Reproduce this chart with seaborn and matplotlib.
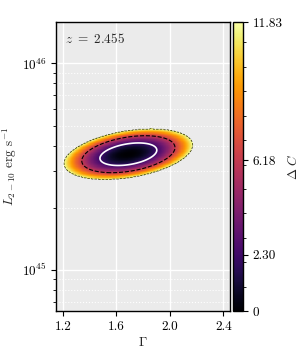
import numpy as np
import matplotlib
matplotlib.use("Agg")
import matplotlib.pyplot as plt
import seaborn as sns

# best fit and 1-sigma widths (Gamma, log10 L)
gamma_best = 1.69
logl_best = 45.560
sigma_gamma = 0.140
sigma_logl = 0.036
rho = 0.36

# delta C levels (2 parameters: 68%, 95.4%, 99.73%)
levels = [2.30, 6.18, 11.83]
cbar_ticks = [0, 2.30, 6.18, 11.83]
cbar_labels = ["0", "2.30", "6.18", "11.83"]
x_ticks = [1.2, 1.6, 2.0, 2.4]
redshift = "2.455"

sns.set_style("darkgrid", {"axes.facecolor": "#EBEBEB", "grid.color": "white"})
plt.rcParams.update({
    "font.family": "serif",
    "font.serif": ["cmr10", "DejaVu Serif"],
    "mathtext.fontset": "cm",
    "axes.formatter.use_mathtext": True,
    "font.size": 9.5,
    "axes.edgecolor": "black",
    "axes.linewidth": 1.0,
    "xtick.bottom": True,
    "ytick.left": True,
    "xtick.direction": "out",
    "ytick.direction": "out",
    "xtick.major.size": 3.5,
    "ytick.major.size": 3.5,
    "ytick.minor.size": 2.5,
    "xtick.color": "black",
    "ytick.color": "black",
})

g = np.linspace(1.15, 2.45, 500)
ll = np.linspace(44.8, 46.2, 500)
G, LL = np.meshgrid(g, ll)
u = (G - gamma_best) / sigma_gamma
v = (LL - logl_best) / sigma_logl
dc = (u**2 - 2 * rho * u * v + v**2) / (1 - rho**2)
dc = np.ma.masked_greater(dc, levels[-1])

fig = plt.figure(figsize=(3.0, 3.5), dpi=100)
ax = fig.add_axes([0.187, 0.111, 0.580, 0.826])
cax = fig.add_axes([0.777, 0.111, 0.033, 0.826])

mesh = ax.pcolormesh(G, 10**LL, dc, cmap="inferno", vmin=0, vmax=levels[-1],
                     shading="auto", rasterized=True)
ax.contour(G, 10**LL, dc.filled(99), levels=[levels[0]], colors="white", linewidths=1.2)
ax.contour(G, 10**LL, dc.filled(99), levels=[levels[1]], colors="black",
           linewidths=0.8, linestyles="--")
ax.contour(G, 10**LL, dc.filled(99), levels=[levels[2] - 0.05], colors="#333300",
           linewidths=0.5, linestyles="--")

ax.set_yscale("log")
ax.set_xlim(1.15, 2.45)
ax.set_ylim(10**44.8, 10**46.2)
ax.set_xticks(x_ticks)
ax.set_xticklabels([f"{t:.1f}" for t in x_ticks])
ax.grid(True, which="major", color="white", linewidth=1.0)
ax.grid(True, which="minor", axis="y", color="white", linewidth=0.8, linestyle=":")
ax.set_axisbelow(True)
for s in ax.spines.values():
    s.set_visible(True)
    s.set_color("black")

ax.set_xlabel(r"$\Gamma$", labelpad=2)
ax.set_ylabel(r"$L_{2-10}$ erg s$^{-1}$", labelpad=2)
ax.text(0.05, 0.965, rf"$z\ =\ {redshift}$", transform=ax.transAxes, ha="left", va="top")

cb = fig.colorbar(mesh, cax=cax)
cb.set_ticks(cbar_ticks)
cb.set_ticklabels(cbar_labels)
cb.ax.yaxis.set_minor_locator(matplotlib.ticker.FixedLocator(range(1, 12)))
cb.ax.tick_params(which="minor", length=2.5)
cb.outline.set_edgecolor("black")
cb.set_label(r"$\Delta\ C$", labelpad=2)

fig.savefig("out.png", dpi=100)
